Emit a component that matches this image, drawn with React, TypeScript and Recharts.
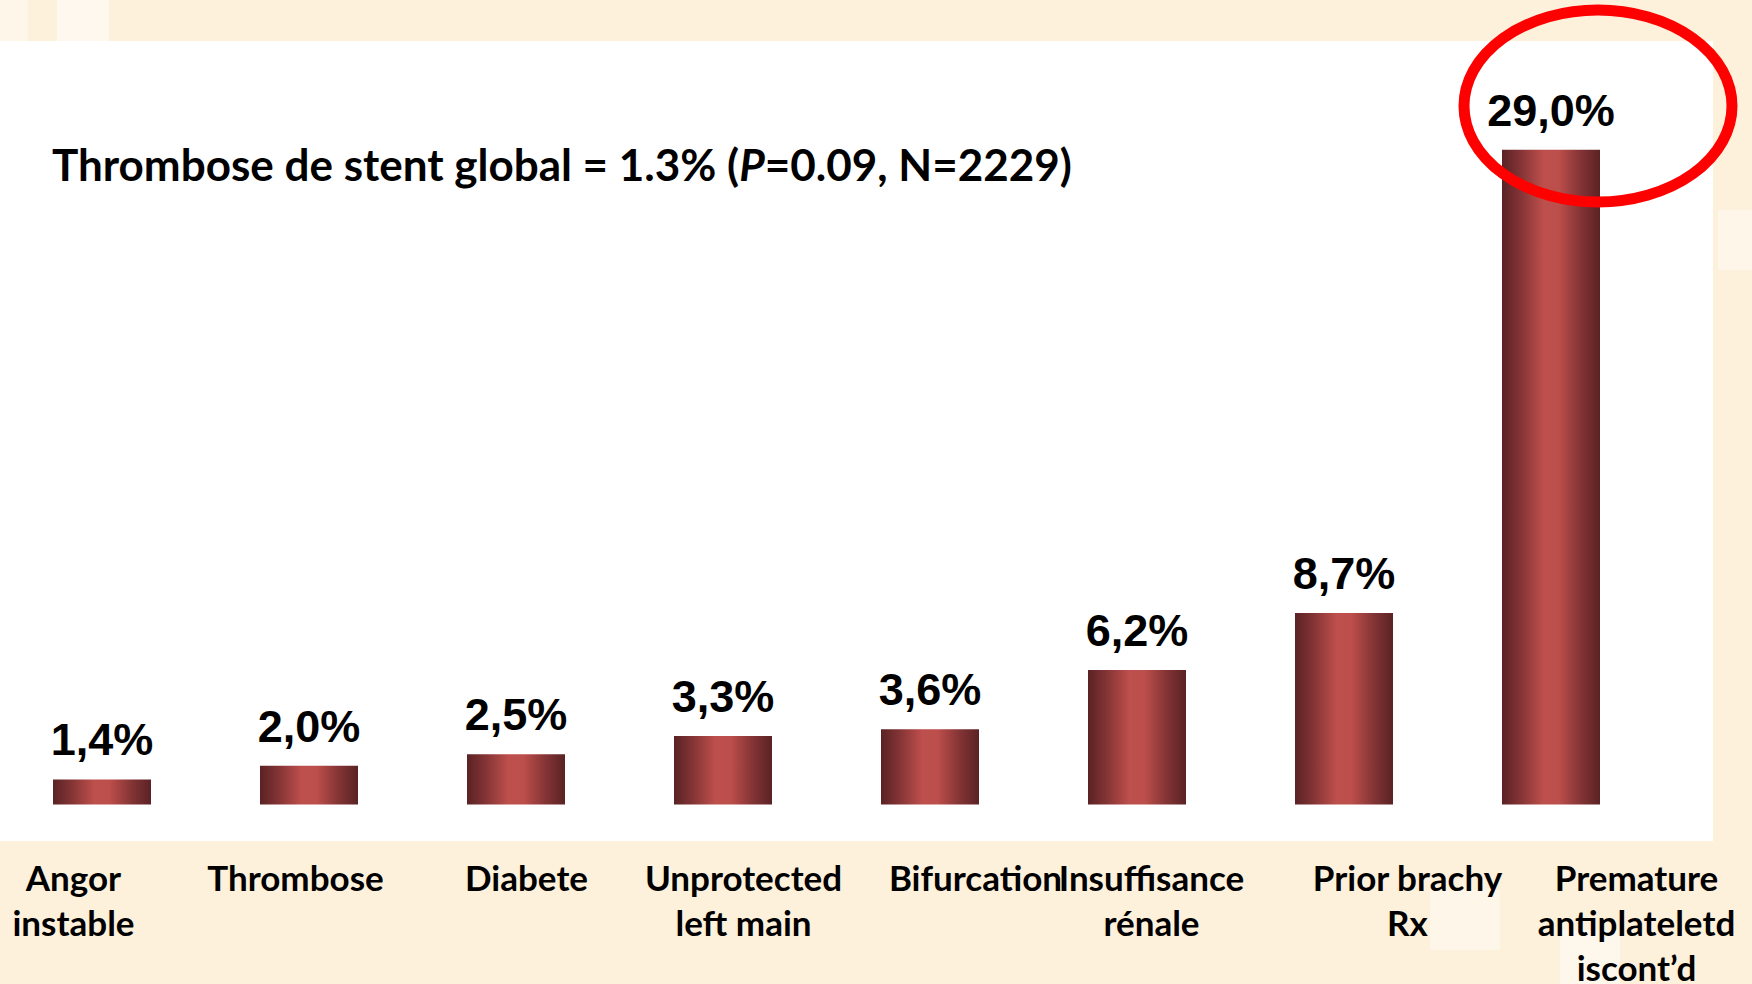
import { BarChart, Bar, XAxis, YAxis, LabelList } from "recharts";

const categories = [
  "Angor\ninstable",
  "Thrombose",
  "Diabete",
  "Unprotected\nleft main",
  "Bifurcation",
  "Insuffisance\nrénale",
  "Prior brachy\nRx",
  "Premature\nantiplateletd\niscont’d",
];
const values = [1.4, 2.0, 2.5, 3.3, 3.6, 6.2, 8.7, 29.0];
// the slide's text boxes are not centred under the bars
const labelNudge = [-28, -13, 11, 21, 46, 15, 64, 86];

const data = categories.map((name, i) => ({ name, value: values[i] }));

const W = 1752;
const H = 984;
const CREAM = "#fdf1dc";
const TEXT_FONT = "Lato, 'Open Sans', sans-serif";

function CategoryTick(props: any) {
  const { x, payload, index } = props;
  const lines = String(payload.value).split("\n");
  const shift = labelNudge[index] ?? 0;
  return (
    <text
      x={x + shift}
      y={891}
      textAnchor="middle"
      fontFamily={TEXT_FONT}
      fontWeight={700}
      fontSize={35}
      fill="#000"
    >
      {lines.map((l, i) => (
        <tspan key={i} x={x + shift} dy={i === 0 ? 0 : 45}>
          {l}
        </tspan>
      ))}
    </text>
  );
}

function ValueLabel(props: any) {
  const { x, y, width, value } = props;
  return (
    <text
      x={x + width / 2}
      y={y - 24}
      textAnchor="middle"
      fontFamily="'Liberation Sans', Arial, sans-serif"
      fontWeight={700}
      fontSize={45}
      fill="#000"
    >
      {Number(value).toFixed(1).replace(".", ",")}%
    </text>
  );
}

export default function App() {
  return (
    <div style={{ position: "absolute", left: 0, top: 0, width: W, height: H, background: CREAM, overflow: "hidden" }}>
      {/* slide background: cream frame with faint squares, white panel */}
      <svg width={W} height={H} style={{ position: "absolute", left: 0, top: 0 }}>
        <defs>
          <linearGradient id="barGrad" x1="0" y1="0" x2="1" y2="0">
            <stop offset="0%" stopColor="#5a2224" />
            <stop offset="20%" stopColor="#863536" />
            <stop offset="42%" stopColor="#bd4f4c" />
            <stop offset="58%" stopColor="#bc4e4b" />
            <stop offset="80%" stopColor="#843435" />
            <stop offset="100%" stopColor="#5a2224" />
          </linearGradient>
        </defs>
        <rect x={0} y={0} width={28} height={41} fill="#fef6e9" />
        <rect x={57} y={0} width={52} height={41} fill="#fef8ee" />
        <rect x={1718} y={210} width={34} height={60} fill="#fef6e9" />
        <rect x={1430} y={890} width={70} height={60} fill="#fef6e9" />
        <rect x={1560} y={930} width={60} height={54} fill="#fef7ec" />
        <rect x={0} y={41} width={1713} height={800} fill="#ffffff" />
      </svg>

      <div style={{ position: "absolute", left: 0, top: 0 }}>
        <BarChart
          width={W}
          height={H}
          data={data}
          margin={{ top: 13, right: 98, left: -2, bottom: 0 }}
          barSize={98}
        >
          <YAxis hide domain={[0.3, 35]} />
          <XAxis
            dataKey="name"
            axisLine={false}
            tickLine={false}
            height={179.5}
            interval={0}
            tick={<CategoryTick />}
          />
          <Bar dataKey="value" fill="url(#barGrad)" isAnimationActive={false}>
            <LabelList dataKey="value" content={<ValueLabel />} />
          </Bar>
        </BarChart>
      </div>

      {/* title and annotation */}
      <svg width={W} height={H} style={{ position: "absolute", left: 0, top: 0, pointerEvents: "none" }}>
        <text x={52} y={181} fontFamily={TEXT_FONT} fontWeight={700} fontSize={44} fill="#000">
          Thrombose de stent global = 1.3% (<tspan fontStyle="italic">P</tspan>=0.09, N=2229)
        </text>
        <ellipse cx={1598} cy={106} rx={134} ry={96} fill="none" stroke="#ff0000" strokeWidth={11} />
      </svg>
    </div>
  );
}
